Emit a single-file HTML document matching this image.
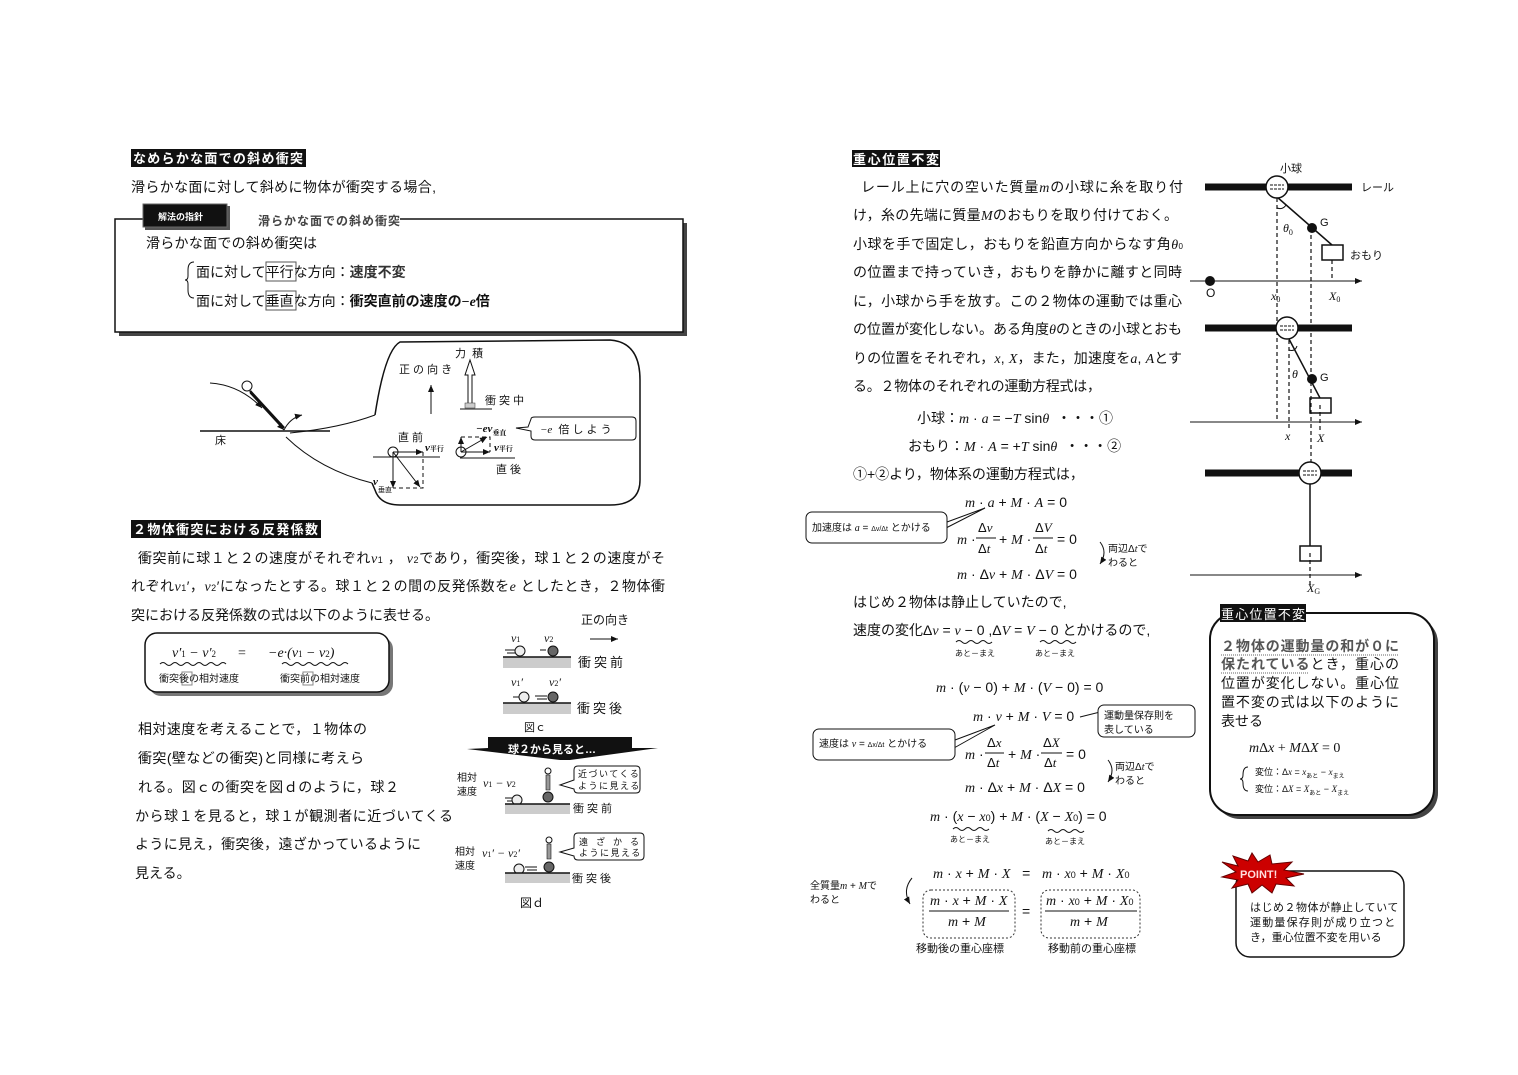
<!DOCTYPE html>
<html><head><meta charset="utf-8"><style>
html,body{margin:0;padding:0;background:#fff;}
svg{display:block;}
text{font-family:"Liberation Sans","Noto Sans CJK JP",sans-serif;fill:#111;white-space:pre;}
.m{font-family:"Liberation Serif","Noto Serif CJK SC",serif;font-style:italic;}
.mn{font-family:"Liberation Serif",serif;}
.b{font-weight:bold;}
.w{fill:#fff;}
</style></head><body>
<svg width="1518" height="1075" viewBox="0 0 1518 1075" xmlns="http://www.w3.org/2000/svg">
<defs>
<marker id="ar" markerWidth="8" markerHeight="8" refX="7" refY="4" orient="auto"><path d="M0,1 L7,4 L0,7 z" fill="#111"/></marker>
</defs>

<!-- ===== LEFT: section 1 ===== -->
<rect x="131" y="149" width="175" height="18" fill="#111"/>
<text x="133" y="163" font-size="13" class="w b" textLength="170">なめらかな面での斜め衝突</text>
<text x="131" y="192" font-size="14" textLength="305">滑らかな面に対して斜めに物体が衝突する場合,</text>

<rect x="119" y="223" width="568" height="113" fill="#444"/>
<rect x="115" y="219" width="568" height="113" fill="#fff" stroke="#111" stroke-width="1.5"/>
<rect x="230" y="212" width="170" height="14" fill="#fff"/>
<rect x="145" y="206" width="85" height="24" fill="#555"/>
<rect x="143" y="204" width="84" height="23" fill="#111" stroke="#666"/>
<text x="158" y="220" font-size="9" class="w b">解法の指針</text>
<text x="258" y="225" font-size="12" class="b" style="fill:#444" textLength="142">滑らかな面での斜め衝突</text>
<text x="146" y="248" font-size="14" textLength="171">滑らかな面での斜め衝突は</text>
<path d="M194,262 q-6,0 -6,8 v6 q0,4 -3,4 q3,0 3,4 v6 q0,8 6,8" fill="none" stroke="#111"/>
<text x="196" y="277" font-size="14">面に対して平行な方向：<tspan class="b" style="fill:#333">速度不変</tspan></text>
<rect x="266" y="262" width="30" height="19" fill="none" stroke="#555"/>
<text x="196" y="306" font-size="14">面に対して垂直な方向：<tspan class="b">衝突直前の速度の</tspan><tspan class="mn b">−</tspan><tspan class="m b">e</tspan><tspan class="b">倍</tspan></text>
<rect x="266" y="291" width="30" height="19" fill="none" stroke="#555"/>

<!-- diagram 1 -->
<line x1="200" y1="431" x2="330" y2="431" stroke="#111" stroke-width="1.5"/>
<text x="215" y="444" font-size="11">床</text>
<path d="M210,383 Q240,385 262,408" fill="none" stroke="#111" marker-end="url(#ar)"/>
<circle cx="247" cy="386" r="5" fill="#fff" stroke="#111"/>
<line x1="250" y1="391" x2="284" y2="428" stroke="#111" stroke-width="2.5"/>
<line x1="250" y1="393" x2="284" y2="430" stroke="#111" stroke-width="1" marker-end="url(#ar)"/>
<path d="M284,430 Q290,418 302,415" fill="none" stroke="#111" marker-end="url(#ar)"/>
<path d="M290,433 Q340,428 375,415" fill="none" stroke="#111"/>
<path d="M286,437 Q320,470 372,483" fill="none" stroke="#111"/>
<path d="M375,415 Q385,350 400,342 L610,340 Q640,342 640,380 L640,480 Q640,505 610,505 L400,505 Q380,505 375,490 L372,483" fill="none" stroke="#111" stroke-width="1.5"/>
<text x="455" y="357" font-size="11">力  積</text>
<path d="M468,407 L468,375 L465,375 L470,360 L475,375 L472,375 L472,407 z" fill="#fff" stroke="#111"/>
<text x="399" y="373" font-size="11">正 の 向 き</text>
<line x1="431" y1="414" x2="431" y2="385" stroke="#111" marker-end="url(#ar)"/>
<rect x="465" y="403" width="10" height="5" fill="#ccc" stroke="#333" stroke-width=".5"/>
<line x1="460" y1="409" x2="492" y2="409" stroke="#111"/>
<text x="485" y="404" font-size="11">衝 突 中</text>
<text x="398" y="441" font-size="11">直 前</text>
<line x1="373" y1="457" x2="440" y2="457" stroke="#111"/>
<circle cx="393" cy="452" r="5" fill="#fff" stroke="#111"/>
<line x1="393" y1="452" x2="423" y2="452" stroke="#111" marker-end="url(#ar)"/>
<line x1="393" y1="452" x2="393" y2="488" stroke="#111" marker-end="url(#ar)"/>
<line x1="393" y1="452" x2="420" y2="487" stroke="#111" marker-end="url(#ar)"/>
<path d="M423,452 V488 H393" fill="none" stroke="#111" stroke-dasharray="4,3"/>
<text x="425" y="451" font-size="11" class="m b">v<tspan font-size="7" font-style="normal">平行</tspan></text>
<text x="373" y="485" font-size="11" class="m b">v</text><text x="378" y="492" font-size="7">垂直</text>
<text x="476" y="432" font-size="11" class="m b">−ev<tspan font-size="7" font-style="normal" dy="3">垂直</tspan></text>
<line x1="460" y1="458" x2="515" y2="458" stroke="#111"/>
<circle cx="461" cy="452" r="5" fill="#fff" stroke="#111"/>
<line x1="461" y1="452" x2="490" y2="452" stroke="#111" marker-end="url(#ar)"/>
<line x1="461" y1="452" x2="461" y2="437" stroke="#111" marker-end="url(#ar)"/>
<line x1="461" y1="452" x2="487" y2="437" stroke="#111" marker-end="url(#ar)"/>
<path d="M461,437 H490 V452" fill="none" stroke="#111" stroke-dasharray="4,3"/>
<text x="494" y="451" font-size="11" class="m b">v<tspan font-size="7" font-style="normal">平行</tspan></text>
<text x="496" y="473" font-size="11">直 後</text>
<path d="M516,428 L528,427 L531,419 Q531,417 535,417 L632,417 Q636,417 636,421 L636,436 Q636,440 632,440 L535,440 Q531,440 531,436 L531,431 z" fill="#fff" stroke="#111"/>
<text x="540" y="433" font-size="11"><tspan class="m">−e</tspan>  倍 し よ う</text>

<!-- ===== section 2 ===== -->
<rect x="131" y="520" width="190" height="18" fill="#111"/>
<text x="133" y="534" font-size="13" class="w b" textLength="185">２物体衝突における反発係数</text>
<text x="138" y="563" font-size="14" textLength="527">衝突前に球１と２の速度がそれぞれ<tspan class="m">v</tspan><tspan font-size="9">1</tspan> ， <tspan class="m">v</tspan><tspan font-size="9">2</tspan>であり，衝突後，球１と２の速度がそ</text>
<text x="131" y="591" font-size="14" textLength="534">れぞれ<tspan class="m">v</tspan><tspan font-size="9">1</tspan>′，<tspan class="m">v</tspan><tspan font-size="9">2</tspan>′になったとする。球１と２の間の反発係数を<tspan class="m">e</tspan> としたとき，２物体衝</text>
<text x="131" y="620" font-size="14" textLength="308">突における反発係数の式は以下のように表せる。</text>

<rect x="149" y="637" width="244" height="59" rx="12" fill="#777"/>
<rect x="145" y="633" width="244" height="59" rx="12" fill="#fff" stroke="#111" stroke-width="1.5"/>
<text x="172" y="657" font-size="14" class="m">v′<tspan font-size="9" font-style="normal">1</tspan> − v′<tspan font-size="9" font-style="normal">2</tspan></text>
<text x="238" y="657" font-size="14" class="mn">=</text>
<text x="268" y="657" font-size="14" class="m">−e·(v<tspan font-size="9" font-style="normal">1</tspan> − v<tspan font-size="9" font-style="normal">2</tspan>)</text>
<path d="M160,664 q3,-3 6,0 t6,0 t6,0 t6,0 t6,0 t6,0 t6,0 t6,0 t6,0 t6,0 t6,0" fill="none" stroke="#111"/>
<path d="M282,664 q3,-3 6,0 t6,0 t6,0 t6,0 t6,0 t6,0 t6,0 t6,0 t6,0 t6,0 t6,0" fill="none" stroke="#111"/>
<text x="159" y="682" font-size="10">衝突後の相対速度</text>
<text x="280" y="682" font-size="10">衝突前の相対速度</text>
<rect x="182" y="672" width="10" height="13" fill="none" stroke="#888"/>
<rect x="303" y="672" width="10" height="13" fill="none" stroke="#888"/>

<text x="138" y="734" font-size="14" textLength="229">相対速度を考えることで，１物体の</text>
<text x="138" y="763" font-size="14" textLength="226">衝突(壁などの衝突)と同様に考えら</text>
<text x="138" y="792" font-size="14" textLength="261">れる。図ｃの衝突を図ｄのように，球２</text>
<text x="135" y="821" font-size="14" textLength="318">から球１を見ると，球１が観測者に近づいてくる</text>
<text x="135" y="849" font-size="14" textLength="286">ように見え，衝突後，遠ざかっているように</text>
<text x="135" y="878" font-size="14">見える。</text>

<!-- fig c -->
<text x="581" y="624" font-size="12">正の向き</text>
<line x1="590" y1="639" x2="618" y2="639" stroke="#111" marker-end="url(#ar)"/>
<text x="511" y="642" font-size="12" class="m">v<tspan font-size="8" font-style="normal">1</tspan></text>
<text x="544" y="642" font-size="12" class="m">v<tspan font-size="8" font-style="normal">2</tspan></text>
<rect x="503" y="657" width="68" height="11" fill="#ccc"/><line x1="503" y1="657" x2="571" y2="657" stroke="#111" stroke-width="1.5"/>
<path d="M505,650 h10 M507,653 h8" stroke="#111"/><circle cx="520" cy="651" r="5" fill="#eee" stroke="#111"/>
<path d="M540,650 h6" stroke="#111"/><circle cx="553" cy="651" r="5" fill="#666" stroke="#111"/>
<text x="578" y="667" font-size="13" letter-spacing="3">衝突前</text>
<text x="511" y="686" font-size="12" class="m">v<tspan font-size="8" font-style="normal">1</tspan>′</text>
<text x="549" y="686" font-size="12" class="m">v<tspan font-size="8" font-style="normal">2</tspan>′</text>
<rect x="503" y="703" width="68" height="11" fill="#ccc"/><line x1="503" y1="703" x2="571" y2="703" stroke="#111" stroke-width="1.5"/>
<path d="M513,697 h6" stroke="#111"/><circle cx="524" cy="697" r="5" fill="#eee" stroke="#111"/>
<path d="M535,696 h12 M537,699 h10" stroke="#111"/><circle cx="553" cy="697" r="5" fill="#666" stroke="#111"/>
<text x="577" y="713" font-size="13" letter-spacing="3">衝突後</text>
<text x="524" y="731" font-size="11">図ｃ</text>
<path d="M467,749 L488,748 L488,737 L632,737 L632,748 L658,748 L570,760 L560,760 z" fill="#111"/>
<text x="508" y="753" font-size="11" class="w b">球２から見ると…</text>

<!-- fig d -->
<text x="457" y="781" font-size="10">相対</text><text x="457" y="795" font-size="10">速度</text>
<text x="483" y="787" font-size="12" class="m">v<tspan font-size="8" font-style="normal">1</tspan> − v<tspan font-size="8" font-style="normal">2</tspan></text>
<circle cx="548" cy="771" r="3" fill="#fff" stroke="#111"/>
<path d="M546,775 h4 v15 h-4 z" fill="#999" stroke="#111" stroke-width=".6"/>
<circle cx="548" cy="797" r="5" fill="#666" stroke="#111"/>
<path d="M505,798 h10 M507,801 h8" stroke="#111"/><circle cx="517" cy="800" r="5" fill="#eee" stroke="#111"/>
<rect x="505" y="804" width="65" height="10" fill="#ccc"/><line x1="505" y1="804" x2="570" y2="804" stroke="#111" stroke-width="1.5"/>
<path d="M560,785 L574,780 L574,770 Q574,766 578,766 L636,766 Q640,766 640,770 L640,789 Q640,793 636,793 L578,793 Q574,793 574,789 z" fill="#fff" stroke="#111"/>
<text x="578" y="777" font-size="9" letter-spacing="1.5">近づいてくる</text>
<text x="578" y="789" font-size="9" letter-spacing="1.5">ように見える</text>
<text x="573" y="812" font-size="11" letter-spacing="3">衝突前</text>

<text x="455" y="855" font-size="10">相対</text><text x="455" y="869" font-size="10">速度</text>
<text x="482" y="857" font-size="12" class="m">v<tspan font-size="8" font-style="normal">1</tspan>′ − v<tspan font-size="8" font-style="normal">2</tspan>′</text>
<circle cx="549" cy="840" r="3" fill="#fff" stroke="#111"/>
<path d="M547,844 h4 v15 h-4 z" fill="#999" stroke="#111" stroke-width=".6"/>
<circle cx="549" cy="867" r="5" fill="#666" stroke="#111"/>
<circle cx="519" cy="869" r="5" fill="#eee" stroke="#111"/><path d="M525,867 h12 M527,870 h10" stroke="#111"/>
<rect x="505" y="873" width="65" height="10" fill="#ccc"/><line x1="505" y1="873" x2="570" y2="873" stroke="#111" stroke-width="1.5"/>
<path d="M560,852 L574,848 L574,837 Q574,833 578,833 L640,833 Q644,833 644,837 L644,856 Q644,860 640,860 L578,860 Q574,860 574,856 z" fill="#fff" stroke="#111"/>
<text x="579" y="845" font-size="9" letter-spacing="8">遠ざかる</text>
<text x="579" y="856" font-size="9" letter-spacing="1.5">ように見える</text>
<text x="572" y="882" font-size="11" letter-spacing="3">衝突後</text>
<text x="520" y="907" font-size="12">図ｄ</text>

<!-- ===== RIGHT column ===== -->
<rect x="852" y="150" width="88" height="17" fill="#111"/>
<text x="853" y="164" font-size="13" class="w b" textLength="86">重心位置不変</text>
<g font-size="14">
<text x="861" y="192" textLength="322">レール上に穴の空いた質量<tspan class="m">m</tspan>の小球に糸を取り付</text>
<text x="853" y="220" textLength="325">け，糸の先端に質量<tspan class="m">M</tspan>のおもりを取り付けておく。</text>
<text x="853" y="249" textLength="330">小球を手で固定し，おもりを鉛直方向からなす角<tspan class="m">θ</tspan><tspan font-size="8">0</tspan></text>
<text x="853" y="277" textLength="329">の位置まで持っていき，おもりを静かに離すと同時</text>
<text x="853" y="306" textLength="329">に，小球から手を放す。この２物体の運動では重心</text>
<text x="853" y="334" textLength="329">の位置が変化しない。ある角度<tspan class="m">θ</tspan>のときの小球とおも</text>
<text x="853" y="363" textLength="329">りの位置をそれぞれ，<tspan class="m">x</tspan>, <tspan class="m">X</tspan>，また，加速度を<tspan class="m">a</tspan>, <tspan class="m">A</tspan>とす</text>
<text x="853" y="391" textLength="248">る。２物体のそれぞれの運動方程式は，</text>
<text x="917" y="423">小球：<tspan class="m">m</tspan> · <tspan class="m">a</tspan> = −<tspan class="m">T</tspan> sin<tspan class="m">θ</tspan>  ・・・①</text>
<text x="908" y="451">おもり：<tspan class="m">M</tspan> · <tspan class="m">A</tspan> = +<tspan class="m">T</tspan> sin<tspan class="m">θ</tspan>  ・・・②</text>
<text x="853" y="479">①+②より，物体系の運動方程式は，</text>
</g>
<g font-size="14" class="mn">
<text x="965" y="507"><tspan class="m">m</tspan> · <tspan class="m">a</tspan> + <tspan class="m">M</tspan> · <tspan class="m">A</tspan> = 0</text>
<text x="957" y="544"><tspan class="m">m</tspan> ·</text>
<text x="978" y="532" font-size="13">Δ<tspan class="m">v</tspan></text><line x1="976" y1="538" x2="996" y2="538" stroke="#111"/><text x="978" y="553" font-size="13">Δ<tspan class="m">t</tspan></text>
<text x="999" y="544">+ <tspan class="m">M</tspan> ·</text>
<text x="1035" y="532" font-size="13">Δ<tspan class="m">V</tspan></text><line x1="1033" y1="538" x2="1053" y2="538" stroke="#111"/><text x="1035" y="553" font-size="13">Δ<tspan class="m">t</tspan></text>
<text x="1057" y="544">= 0</text>
<text x="957" y="579"><tspan class="m">m</tspan> · Δ<tspan class="m">v</tspan> + <tspan class="m">M</tspan> · Δ<tspan class="m">V</tspan> = 0</text>
</g>
<path d="M1100,542 q8,10 0,22" fill="none" stroke="#111" marker-end="url(#ar)"/>
<text x="1108" y="552" font-size="10">両辺Δ<tspan class="m">t</tspan>で</text>
<text x="1108" y="566" font-size="10">わると</text>
<path d="M947,522 L985,508 L946,528" fill="#fff" stroke="#111"/>
<rect x="806" y="512" width="141" height="31" rx="6" fill="#fff" stroke="#111"/>
<path d="M944,521 L944,530" stroke="#fff" stroke-width="3"/>
<text x="812" y="531" font-size="10">加速度は <tspan class="m">a</tspan> = <tspan font-size="7">Δv/Δt</tspan> とかける</text>

<g font-size="14">
<text x="853" y="607">はじめ２物体は静止していたので,</text>
<text x="853" y="635">速度の変化Δ<tspan class="m">v</tspan> = <tspan class="m">v</tspan> − 0 ,Δ<tspan class="m">V</tspan> = <tspan class="m">V</tspan> − 0 とかけるので,</text>
</g>
<path d="M956,642 q3,-3 6,0 t6,0 t6,0 t6,0 t6,0 t6,0" fill="none" stroke="#111"/>
<path d="M1040,642 q3,-3 6,0 t6,0 t6,0 t6,0 t6,0 t6,0" fill="none" stroke="#111"/>
<text x="955" y="656" font-size="8">あと－まえ</text>
<text x="1035" y="656" font-size="8">あと－まえ</text>

<g font-size="14" class="mn">
<text x="936" y="692"><tspan class="m">m</tspan> · (<tspan class="m">v</tspan> − 0) + <tspan class="m">M</tspan> · (<tspan class="m">V</tspan> − 0) = 0</text>
<text x="973" y="721"><tspan class="m">m</tspan> · <tspan class="m">v</tspan> + <tspan class="m">M</tspan> · <tspan class="m">V</tspan> = 0</text>
<text x="965" y="759"><tspan class="m">m</tspan> ·</text>
<text x="987" y="747" font-size="13">Δ<tspan class="m">x</tspan></text><line x1="985" y1="753" x2="1004" y2="753" stroke="#111"/><text x="987" y="767" font-size="13">Δ<tspan class="m">t</tspan></text>
<text x="1008" y="759">+ <tspan class="m">M</tspan> ·</text>
<text x="1043" y="747" font-size="13">Δ<tspan class="m">X</tspan></text><line x1="1041" y1="753" x2="1062" y2="753" stroke="#111"/><text x="1044" y="767" font-size="13">Δ<tspan class="m">t</tspan></text>
<text x="1066" y="759">= 0</text>
<text x="965" y="792"><tspan class="m">m</tspan> · Δ<tspan class="m">x</tspan> + <tspan class="m">M</tspan> · Δ<tspan class="m">X</tspan> = 0</text>
<text x="930" y="821"><tspan class="m">m</tspan> · (<tspan class="m">x</tspan> − <tspan class="m">x</tspan><tspan font-size="9">0</tspan>) + <tspan class="m">M</tspan> · (<tspan class="m">X</tspan> − <tspan class="m">X</tspan><tspan font-size="9">0</tspan>) = 0</text>
</g>
<path d="M1080,717 L1100,712 L1100,724" fill="#fff" stroke="#111"/>
<rect x="1098" y="705" width="97" height="32" rx="6" fill="#fff" stroke="#111"/>
<text x="1104" y="719" font-size="10">運動量保存則を</text>
<text x="1104" y="733" font-size="10">表している</text>
<path d="M955,740 L995,725 L954,748" fill="#fff" stroke="#111"/>
<rect x="813" y="729" width="142" height="31" rx="6" fill="#fff" stroke="#111"/>
<path d="M953,739 L953,748" stroke="#fff" stroke-width="3"/>
<text x="819" y="747" font-size="10">速度は <tspan class="m">v</tspan> = <tspan font-size="7">Δx/Δt</tspan> とかける</text>
<path d="M1108,760 q8,10 0,22" fill="none" stroke="#111" marker-end="url(#ar)"/>
<text x="1115" y="770" font-size="10">両辺Δ<tspan class="m">t</tspan>で</text>
<text x="1115" y="784" font-size="10">わると</text>
<path d="M953,829 q3,-3 6,0 t6,0 t6,0 t6,0 t6,0 t6,0" fill="none" stroke="#111"/>
<path d="M1048,831 q3,-3 6,0 t6,0 t6,0 t6,0 t6,0 t6,0" fill="none" stroke="#111"/>
<text x="950" y="842" font-size="8">あと－まえ</text>
<text x="1045" y="844" font-size="8">あと－まえ</text>

<g font-size="14" class="mn">
<text x="933" y="878"><tspan class="m">m</tspan> · <tspan class="m">x</tspan> + <tspan class="m">M</tspan> · <tspan class="m">X</tspan>   =   <tspan class="m">m</tspan> · <tspan class="m">x</tspan><tspan font-size="9">0</tspan> + <tspan class="m">M</tspan> · <tspan class="m">X</tspan><tspan font-size="9">0</tspan></text>
<rect x="923" y="890" width="92" height="48" rx="8" fill="none" stroke="#333" stroke-dasharray="2,2"/>
<rect x="1041" y="890" width="99" height="48" rx="8" fill="none" stroke="#333" stroke-dasharray="2,2"/>
<text x="930" y="905"><tspan class="m">m</tspan> · <tspan class="m">x</tspan> + <tspan class="m">M</tspan> · <tspan class="m">X</tspan></text>
<line x1="929" y1="911" x2="1009" y2="911" stroke="#111"/>
<text x="948" y="926"><tspan class="m">m</tspan> + <tspan class="m">M</tspan></text>
<text x="1022" y="916">=</text>
<text x="1046" y="905"><tspan class="m">m</tspan> · <tspan class="m">x</tspan><tspan font-size="9">0</tspan> + <tspan class="m">M</tspan> · <tspan class="m">X</tspan><tspan font-size="9">0</tspan></text>
<line x1="1045" y1="911" x2="1137" y2="911" stroke="#111"/>
<text x="1070" y="926"><tspan class="m">m</tspan> + <tspan class="m">M</tspan></text>
</g>
<path d="M912,878 q-10,12 -2,26" fill="none" stroke="#111" marker-end="url(#ar)"/>
<text x="810" y="889" font-size="10">全質量<tspan class="m">m</tspan> + <tspan class="m">M</tspan>で</text>
<text x="810" y="903" font-size="10">わると</text>
<text x="916" y="952" font-size="11">移動後の重心座標</text>
<text x="1048" y="952" font-size="11">移動前の重心座標</text>

<!-- right diagram -->
<g stroke="#111">
<line x1="1205" y1="187" x2="1352" y2="187" stroke-width="7"/>
<line x1="1205" y1="328" x2="1352" y2="328" stroke-width="7"/>
<line x1="1205" y1="473" x2="1352" y2="473" stroke-width="7"/>
<line x1="1190" y1="281" x2="1362" y2="281" marker-end="url(#ar)"/>
<line x1="1190" y1="422" x2="1362" y2="422" marker-end="url(#ar)"/>
<line x1="1190" y1="575" x2="1362" y2="575" marker-end="url(#ar)"/>
<g stroke-dasharray="4,3" stroke-width="1.2">
<line x1="1277" y1="198" x2="1277" y2="422"/>
<line x1="1311" y1="228" x2="1311" y2="470"/>
<line x1="1332" y1="260" x2="1332" y2="281"/>
<line x1="1289" y1="340" x2="1289" y2="430"/>
<line x1="1320" y1="405" x2="1320" y2="430"/>
<line x1="1310" y1="553" x2="1310" y2="585"/>
</g>
<line x1="1277" y1="197" x2="1332" y2="245" stroke-width="1.5"/>
<line x1="1289" y1="339" x2="1320" y2="398" stroke-width="1.5"/>
<line x1="1310" y1="484" x2="1310" y2="546" stroke-width="1.5"/>
<circle cx="1277" cy="187" r="11" fill="#fff" stroke-width="1.5"/>
<circle cx="1287" cy="328" r="11" fill="#fff" stroke-width="1.5"/>
<circle cx="1310" cy="473" r="11" fill="#fff" stroke-width="1.5"/>
<path d="M1270,185 h14 M1270,189 h14 M1280,326 h14 M1280,330 h14 M1303,471 h14 M1303,475 h14" stroke-dasharray="3,1"/>
<rect x="1322" y="245" width="21" height="15" fill="#fff" stroke-width="1.5"/>
<rect x="1310" y="398" width="21" height="15" fill="none" stroke-width="1.5"/>
<rect x="1300" y="546" width="21" height="15" fill="none" stroke-width="1.5"/>
<path d="M1277,208 q6,2 9,-3" fill="none"/>
<path d="M1289,350 q6,2 8,-4" fill="none"/>
</g>
<circle cx="1312" cy="228" r="5" fill="#111"/>
<circle cx="1312" cy="379" r="5" fill="#111"/>
<circle cx="1210" cy="281" r="5" fill="#111"/>
<text x="1280" y="172" font-size="11">小球</text>
<text x="1361" y="191" font-size="11">レール</text>
<text x="1320" y="226" font-size="11">G</text>
<text x="1320" y="381" font-size="11">G</text>
<text x="1350" y="259" font-size="11">おもり</text>
<text x="1206" y="297" font-size="12">O</text>
<text x="1283" y="232" font-size="12" class="m">θ<tspan font-size="8" font-style="normal" dy="3">0</tspan></text>
<text x="1292" y="378" font-size="12" class="m">θ</text>
<text x="1271" y="300" font-size="12" class="m">x<tspan font-size="8" font-style="normal" dy="2">0</tspan></text>
<text x="1329" y="300" font-size="12" class="m">X<tspan font-size="8" font-style="normal" dy="2">0</tspan></text>
<text x="1285" y="440" font-size="12" class="m">x</text>
<text x="1317" y="442" font-size="12" class="m">X</text>
<text x="1307" y="592" font-size="12" class="m">X<tspan font-size="8" font-style="normal" dy="2">G</tspan></text>

<!-- summary box -->
<rect x="1214" y="617" width="224" height="202" rx="26" fill="#444"/>
<rect x="1210" y="613" width="224" height="202" rx="26" fill="#fff" stroke="#111" stroke-width="2"/>
<rect x="1220" y="604" width="86" height="18" fill="#111"/>
<text x="1221" y="619" font-size="13" class="w" textLength="84">重心位置不変</text>
<g font-size="14">
<text x="1221" y="651" class="b" style="fill:#555" textLength="178">２物体の運動量の和が０に</text>
<line x1="1221" y1="655" x2="1399" y2="655" stroke="#666" stroke-dasharray="1,1"/>
<text x="1221" y="669" textLength="178"><tspan class="b" style="fill:#555">保たれている</tspan>とき，重心の</text>
<line x1="1221" y1="673" x2="1309" y2="673" stroke="#666" stroke-dasharray="1,1"/>
<text x="1221" y="688" textLength="178">位置が変化しない。重心位</text>
<text x="1221" y="707" textLength="178">置不変の式は以下のように</text>
<text x="1221" y="726">表せる</text>
</g>
<text x="1249" y="752" font-size="14" class="mn"><tspan class="m">m</tspan>Δ<tspan class="m">x</tspan> + <tspan class="m">M</tspan>Δ<tspan class="m">X</tspan> = 0</text>
<path d="M1248,767 q-5,0 -5,8 q0,4 -3,4 q3,0 3,4 q0,8 5,8" fill="none" stroke="#111"/>
<text x="1255" y="775" font-size="9">変位：Δ<tspan class="m">x</tspan> = <tspan class="m">x</tspan><tspan font-size="6" dy="3">あと</tspan><tspan dy="-3"> − </tspan><tspan class="m">x</tspan><tspan font-size="6" dy="3">まえ</tspan></text>
<text x="1255" y="792" font-size="9">変位：Δ<tspan class="m">X</tspan> = <tspan class="m">X</tspan><tspan font-size="6" dy="3">あと</tspan><tspan dy="-3"> − </tspan><tspan class="m">X</tspan><tspan font-size="6" dy="3">まえ</tspan></text>

<!-- POINT -->
<rect x="1236" y="871" width="168" height="86" rx="14" fill="#fff" stroke="#111" stroke-width="1.5"/>
<path d="M1222,862 L1238,866 L1233,856 L1248,861 L1252,853 L1258,862 L1270,855 L1272,864 L1292,862 L1284,870 L1304,874 L1286,878 L1294,886 L1276,884 L1272,893 L1262,885 L1252,893 L1248,884 L1232,888 L1238,880 L1222,877 L1236,872 z" fill="#c00" stroke="#600"/>
<text x="1240" y="878" font-size="11" class="b" style="fill:#fdd">POINT!</text>
<text x="1250" y="911" font-size="11" letter-spacing=".5">はじめ２物体が静止していて</text>
<text x="1250" y="926" font-size="11" letter-spacing="1.2">運動量保存則が成り立つと</text>
<text x="1250" y="941" font-size="11">き，重心位置不変を用いる</text>
</svg>
</body></html>
